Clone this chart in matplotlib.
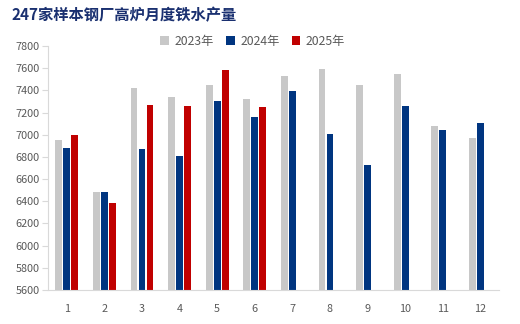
import numpy as np
import matplotlib
matplotlib.use("Agg")
from matplotlib import pyplot as plt
from matplotlib.patches import Patch

plt.rcParams['font.family'] = ['Noto Sans CJK SC', 'DejaVu Sans']

# 数据
months = ['1', '2', '3', '4', '5', '6', '7', '8', '9', '10', '11', '12']
v2023 = [6955, 6483, 7421, 7340, 7450, 7322, 7529, 7592, 7450, 7547, 7081, 6972]
v2024 = [6883, 6483, 6873, 6809, 7304, 7161, 7394, 7009, 6728, 7260, 7045, 7108]
v2025 = [7000, 6385, 7269, 7260, 7585, 7251]
series_names = ['2023年', '2024年', '2025年']
colors = ['#c8c8c8', '#003580', '#c00000']

fig = plt.figure(figsize=(5.2, 3.24), dpi=100)
ax = fig.add_axes([0.0923, 0.105, 0.8677, 0.753])

x = np.arange(1, len(months) + 1)
w = 0.18
off = 0.213
ax.bar(x - off, v2023, width=w, color=colors[0], zorder=2)
ax.bar(x, v2024, width=w, color=colors[1], zorder=2)
ax.bar(x[:len(v2025)] + off, v2025, width=w, color=colors[2], zorder=2)

ax.set_xlim(0.5, 12.5)
ax.set_ylim(5600, 7800)
ax.set_yticks(range(5600, 7801, 200))
ax.set_xticks(x)
ax.set_xticklabels(months)

for s in ['top', 'right']:
    ax.spines[s].set_visible(False)
for s in ['left', 'bottom']:
    ax.spines[s].set_color('#d9d9d9')
ax.tick_params(axis='y', colors='#d9d9d9', labelcolor='#595959', labelsize=7.8, length=4, pad=2)
ax.tick_params(axis='x', length=0, labelcolor='#595959', labelsize=7.8, pad=10)

# 标题
fig.text(0.022, 0.952, '247家样本钢厂高炉月度铁水产量', fontsize=11, fontweight='bold',
         color='#1a3070', va='center', ha='left')

# 图例
handles = [Patch(facecolor=c, edgecolor='none') for c in colors]
fig.legend(handles, series_names, loc='center', bbox_to_anchor=(0.486, 0.873), ncol=3,
           frameon=False, fontsize=8.8, labelcolor='#595959', handlelength=0.7, handleheight=0.7,
           handletextpad=0.45, columnspacing=1.0)

fig.savefig('out.png', dpi=100)
